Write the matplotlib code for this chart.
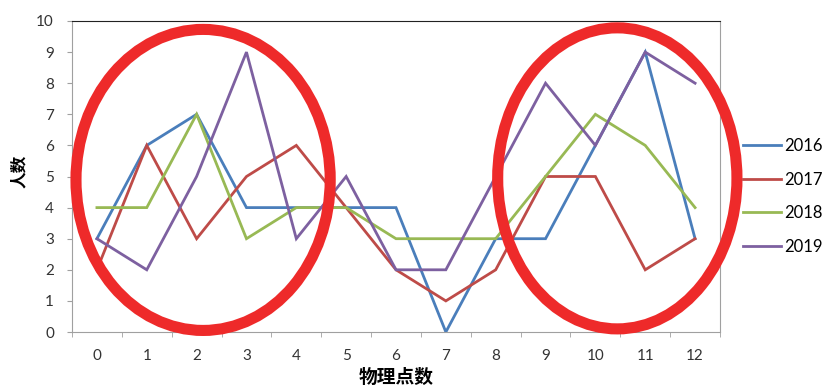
import matplotlib
matplotlib.use("Agg")
import matplotlib.pyplot as plt
from matplotlib.patches import Ellipse

plt.rcParams['font.family'] = ['Lato', 'Noto Sans CJK SC', 'DejaVu Sans']

scores = list(range(13))
years = ["2016", "2017", "2018", "2019"]
counts_2016 = [3, 6, 7, 4, 4, 4, 4, 0, 3, 3, 6, 9, 3]
counts_2017 = [2, 6, 3, 5, 6, 4, 2, 1, 2, 5, 5, 2, 3]
counts_2018 = [4, 4, 7, 3, 4, 4, 3, 3, 3, 5, 7, 6, 4]
counts_2019 = [3, 2, 5, 9, 3, 5, 2, 2, 5, 8, 6, 9, 8]
series = [counts_2016, counts_2017, counts_2018, counts_2019]
colors = ["#4A7EBB", "#BE4B48", "#98B954", "#7D60A0"]

fig = plt.figure(figsize=(8.22, 3.87), dpi=100)
ax = fig.add_axes([72 / 822, 1 - 332 / 387, 648 / 822, 311 / 387])

for yr, vals, c in zip(years, series, colors):
    ax.plot(scores, vals, color=c, lw=2.0, label=yr, solid_joinstyle='miter')

ax.set_xlim(-0.5, 12.5)
ax.set_ylim(0, 10)
ax.set_yticks(range(0, 11))
ax.set_xticks(scores)
ax.set_xticks([i - 0.5 for i in range(14)], minor=True)
ax.tick_params(axis='x', which='major', length=0, labelsize=11, labelcolor='#333333', pad=12.5)
ax.tick_params(axis='x', which='minor', length=3.6, color='#A0A0A0', direction='out')
ax.tick_params(axis='y', length=3.6, color='#A0A0A0', labelsize=11, labelcolor='#333333', pad=9.4)

for side in ['left', 'bottom', 'right']:
    ax.spines[side].set_color('#A0A0A0')
ax.spines['top'].set_color('#222222')

cjk = ['Noto Sans CJK SC', 'DejaVu Sans']
ax.set_xlabel("物理点数", fontsize=13.5, fontweight='bold', labelpad=3, family=cjk)
ax.set_ylabel("人数", fontsize=12, fontweight='bold', labelpad=6, family=cjk)
ax.yaxis.label.set_y(0.518)

# highlight rings around the two busy regions
for cx, cy, w, h in [(2.13, 4.89, 5.1, 9.68), (10.44, 4.94, 4.8, 9.68)]:
    ax.add_patch(Ellipse((cx, cy), w, h, fill=False, edgecolor='#EE2A2A',
                         lw=8, clip_on=False, zorder=5))

leg = ax.legend(loc='center left', bbox_to_anchor=(1.035, 0.436), frameon=False,
                fontsize=12, handlelength=2.3, labelspacing=1.05, handletextpad=0.2,
                borderpad=0, borderaxespad=0)

fig.savefig("out.png", dpi=100)
